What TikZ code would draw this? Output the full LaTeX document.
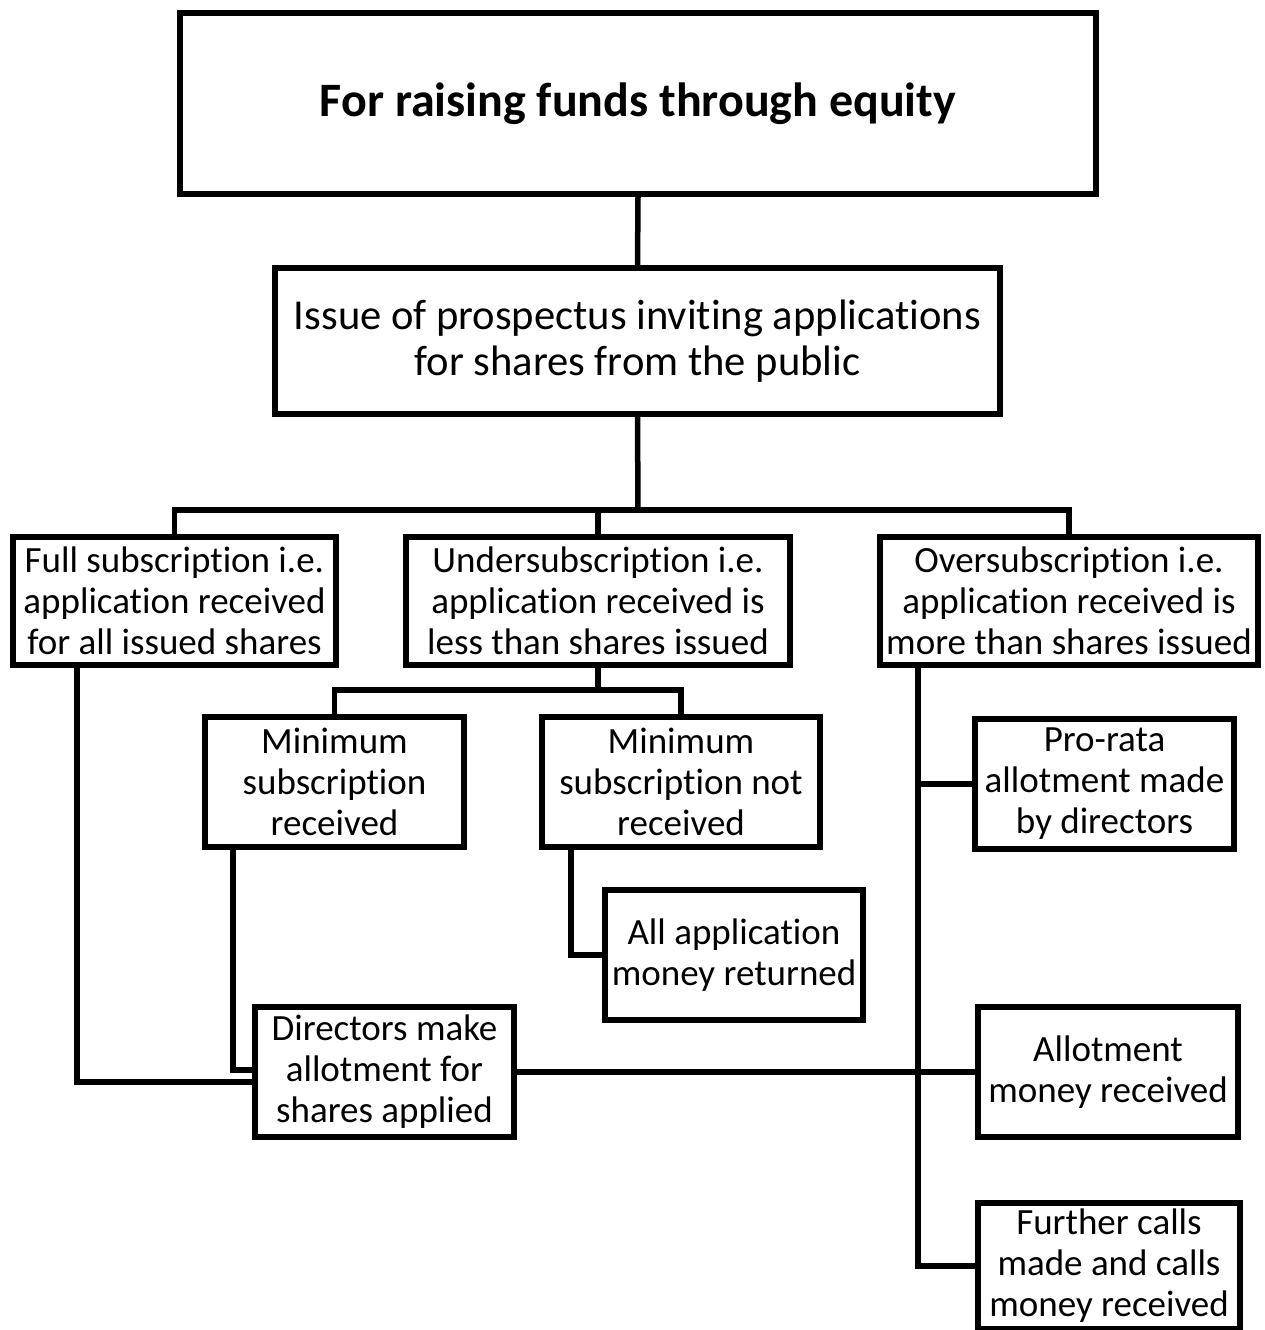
\documentclass[tikz,border=0pt]{standalone}
\usepackage{fontspec}
\setmainfont{Carlito}[RawFeature={-liga;-clig;-dlig}]
\begin{document}
\begin{tikzpicture}[x=1pt,y=-1pt,
  box/.style={draw=black,line width=5.5pt,fill=white,inner sep=0pt,align=center,
    font=\fontsize{37}{41}\selectfont},
  link/.style={draw=black,line width=5.5pt,line join=miter}]
\useasboundingbox[fill=white] (0,0) rectangle (1265,1330);

% boxes
\node[box,minimum width=916pt,minimum height=181pt,font=\bfseries\fontsize{48}{58}\selectfont]
  (top) at (638,103.5) {For raising funds through equity};
\node[box,minimum width=725pt,minimum height=146pt,font=\fontsize{42.6}{45.5}\selectfont]
  (issue) at (637.5,341) {Issue of prospectus inviting applications\\for shares from the public};
\node[box,minimum width=323pt,minimum height=128pt] (full) at (174.5,601)
  {Full subscription i.e.\\application received\\for all issued shares};
\node[box,minimum width=384pt,minimum height=128pt] (under) at (598,601)
  {Undersubscription i.e.\\application received is\\less than shares issued};
\node[box,minimum width=378pt,minimum height=128pt] (over) at (1069,601)
  {Oversubscription i.e.\\application received is\\more than shares issued};
\node[box,minimum width=259pt,minimum height=130pt] (minrec) at (334.5,782)
  {Minimum\\subscription\\received};
\node[box,minimum width=278pt,minimum height=130pt] (minnot) at (681,782)
  {Minimum\\subscription not\\received};
\node[box,minimum width=258pt,minimum height=130pt] (allapp) at (734,955)
  {All application\\money returned};
\node[box,minimum width=259pt,minimum height=130pt] (directors) at (384.5,1072)
  {Directors make\\allotment for\\shares applied};
\node[box,minimum width=259pt,minimum height=130pt] (prorata) at (1104.5,784)
  {Pro-rata\\allotment made\\by directors};
\node[box,minimum width=260pt,minimum height=130pt] (allot) at (1108,1072)
  {Allotment\\money received};
\node[box,minimum width=262pt,minimum height=126pt] (further) at (1109,1266)
  {Further calls\\made and calls\\money received};

% junction points
\coordinate (b1) at (638,510);
\coordinate (b2) at (598,690);
\coordinate (vtop) at (918,665);
\coordinate (vbot) at (918,1266);
\coordinate (vpro) at (918,784);

% connectors
\draw[link] (top.south) -- (issue.north);
\draw[link] (issue.south) -- (b1);
\draw[link] (full.north) |- (b1) -| (over.north);
\draw[link] (under.north) -- (under.north |- b1);
\draw[link] (under.south) -- (b2);
\draw[link] (minrec.north) |- (b2) -| (minnot.north);
\draw[link] ([xshift=-110pt]minnot.south) |- (allapp.west);
\draw[link] ([xshift=-101.5pt]minrec.south) |- ([yshift=2pt]directors.west);
\draw[link] ([xshift=-97.5pt]full.south) |- ([yshift=-10pt]directors.west);
\draw[link] (vtop) -- (vbot) -- (further.west);
\draw[link] (vpro) -- (prorata.west);
\draw[link] (directors.east) -- (allot.west);
\end{tikzpicture}
\end{document}
